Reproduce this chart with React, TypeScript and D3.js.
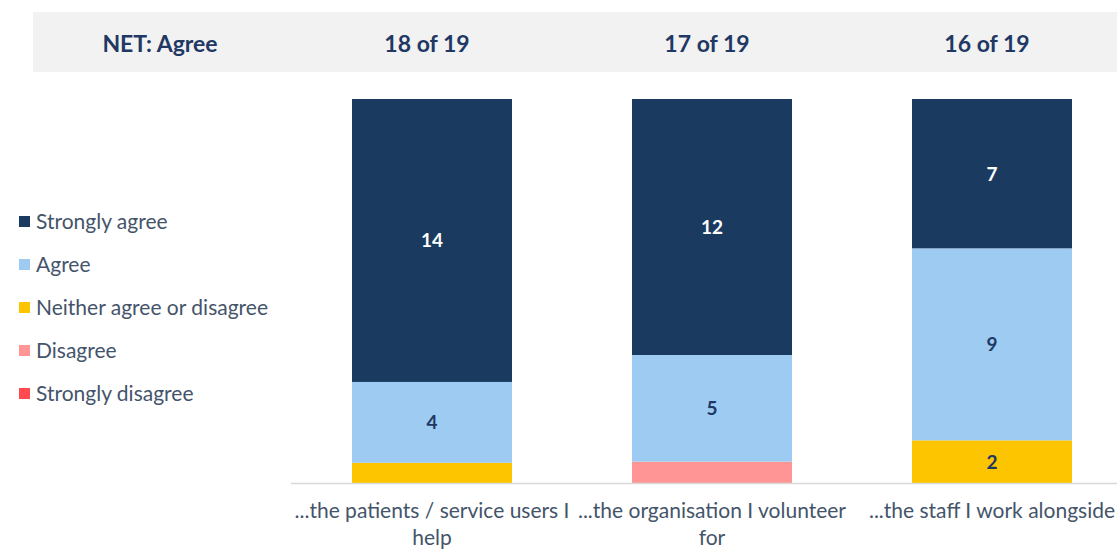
import React from "react";
import * as d3 from "d3";

const categories = [
  ["...the patients / service users I", "help"],
  ["...the organisation I volunteer", "for"],
  ["...the staff I work alongside"],
];
const netAgree = ["18 of 19", "17 of 19", "16 of 19"];
const seriesNames = ["Strongly agree", "Agree", "Neither agree or disagree", "Disagree", "Strongly disagree"];
const seriesColors = ["#1B3A5F", "#9ECBF1", "#FDC400", "#FF9595", "#FF4B4F"];
const stronglyAgree = [14, 12, 7];
const agree = [4, 5, 9];
const neither = [1, 0, 2];
const disagree = [0, 1, 0];
const stronglyDisagree = [0, 0, 0];

const width = 1117;
const height = 550;
const font = "Lato, 'Open Sans', sans-serif";

export default function App() {
  const values = [stronglyAgree, agree, neither, disagree, stronglyDisagree];
  const rows = categories.map((c, i) => {
    const row: any = { key: i };
    seriesNames.forEach((s, j) => (row[s] = values[j][i]));
    return row;
  });
  // bottom-up stacking order: strongly disagree at bottom
  const stack = d3
    .stack()
    .keys([...seriesNames].reverse())
    .offset(d3.stackOffsetExpand);
  const stacked = stack(rows);

  const x = d3
    .scaleBand<number>()
    .domain(categories.map((_, i) => i))
    .range([292, 1132])
    .paddingInner(0.4286)
    .paddingOuter(0.2143);
  const y = d3.scaleLinear().domain([0, 1]).range([483, 99]);

  return (
    <svg width={width} height={height} style={{ position: "absolute", left: 0, top: 0 }}>
      {/* header band */}
      <rect x={33} y={12} width={width - 33} height={60} fill="#F2F2F2" />
      <text x={160} y={52} textAnchor="middle" fontFamily={font} fontWeight="bold" fontSize={23} fill="#1F3864">
        NET: Agree
      </text>
      {netAgree.map((t, i) => (
        <text
          key={i}
          x={x(i)! + x.bandwidth() / 2 - 5}
          y={52}
          textAnchor="middle"
          fontFamily={font}
          fontWeight="bold"
          fontSize={23}
          fill="#1F3864"
        >
          {t}
        </text>
      ))}

      {/* bars */}
      {stacked.map((layer) => {
        const si = seriesNames.indexOf(layer.key);
        return (
          <g key={layer.key}>
            {layer.map((d, i) => {
              const v = values[si][i];
              if (!v) return null;
              const y0 = y(d[0]);
              const y1 = y(d[1]);
              return (
                <g key={i}>
                  <rect x={x(i)} y={y1} width={x.bandwidth()} height={y0 - y1} fill={seriesColors[si]} />
                  {v > 1 && (
                    <text
                      x={x(i)! + x.bandwidth() / 2}
                      y={(y0 + y1) / 2 + 7}
                      textAnchor="middle"
                      fontFamily={font}
                      fontWeight="bold"
                      fontSize={19}
                      fill={si === 0 ? "#FFFFFF" : "#1F3864"}
                    >
                      {v}
                    </text>
                  )}
                </g>
              );
            })}
          </g>
        );
      })}

      {/* baseline */}
      <line x1={291} x2={width} y1={483.5} y2={483.5} stroke="#D9D9D9" strokeWidth={1.5} />

      {/* category labels */}
      {categories.map((lines, i) => (
        <text
          key={i}
          x={x(i)! + x.bandwidth() / 2}
          y={518}
          textAnchor="middle"
          fontFamily={font}
          fontSize={21}
          fill="#44546A"
        >
          {lines.map((l, k) => (
            <tspan key={k} x={x(i)! + x.bandwidth() / 2} dy={k === 0 ? 0 : 27}>
              {l}
            </tspan>
          ))}
        </text>
      ))}

      {/* legend */}
      {seriesNames.map((s, i) => (
        <g key={s} transform={`translate(19, ${222 + i * 43})`}>
          <rect x={0} y={-6} width={11} height={11} fill={seriesColors[i]} />
          <text x={17} y={7} fontFamily={font} fontSize={21} fill="#44546A">
            {s}
          </text>
        </g>
      ))}
    </svg>
  );
}
